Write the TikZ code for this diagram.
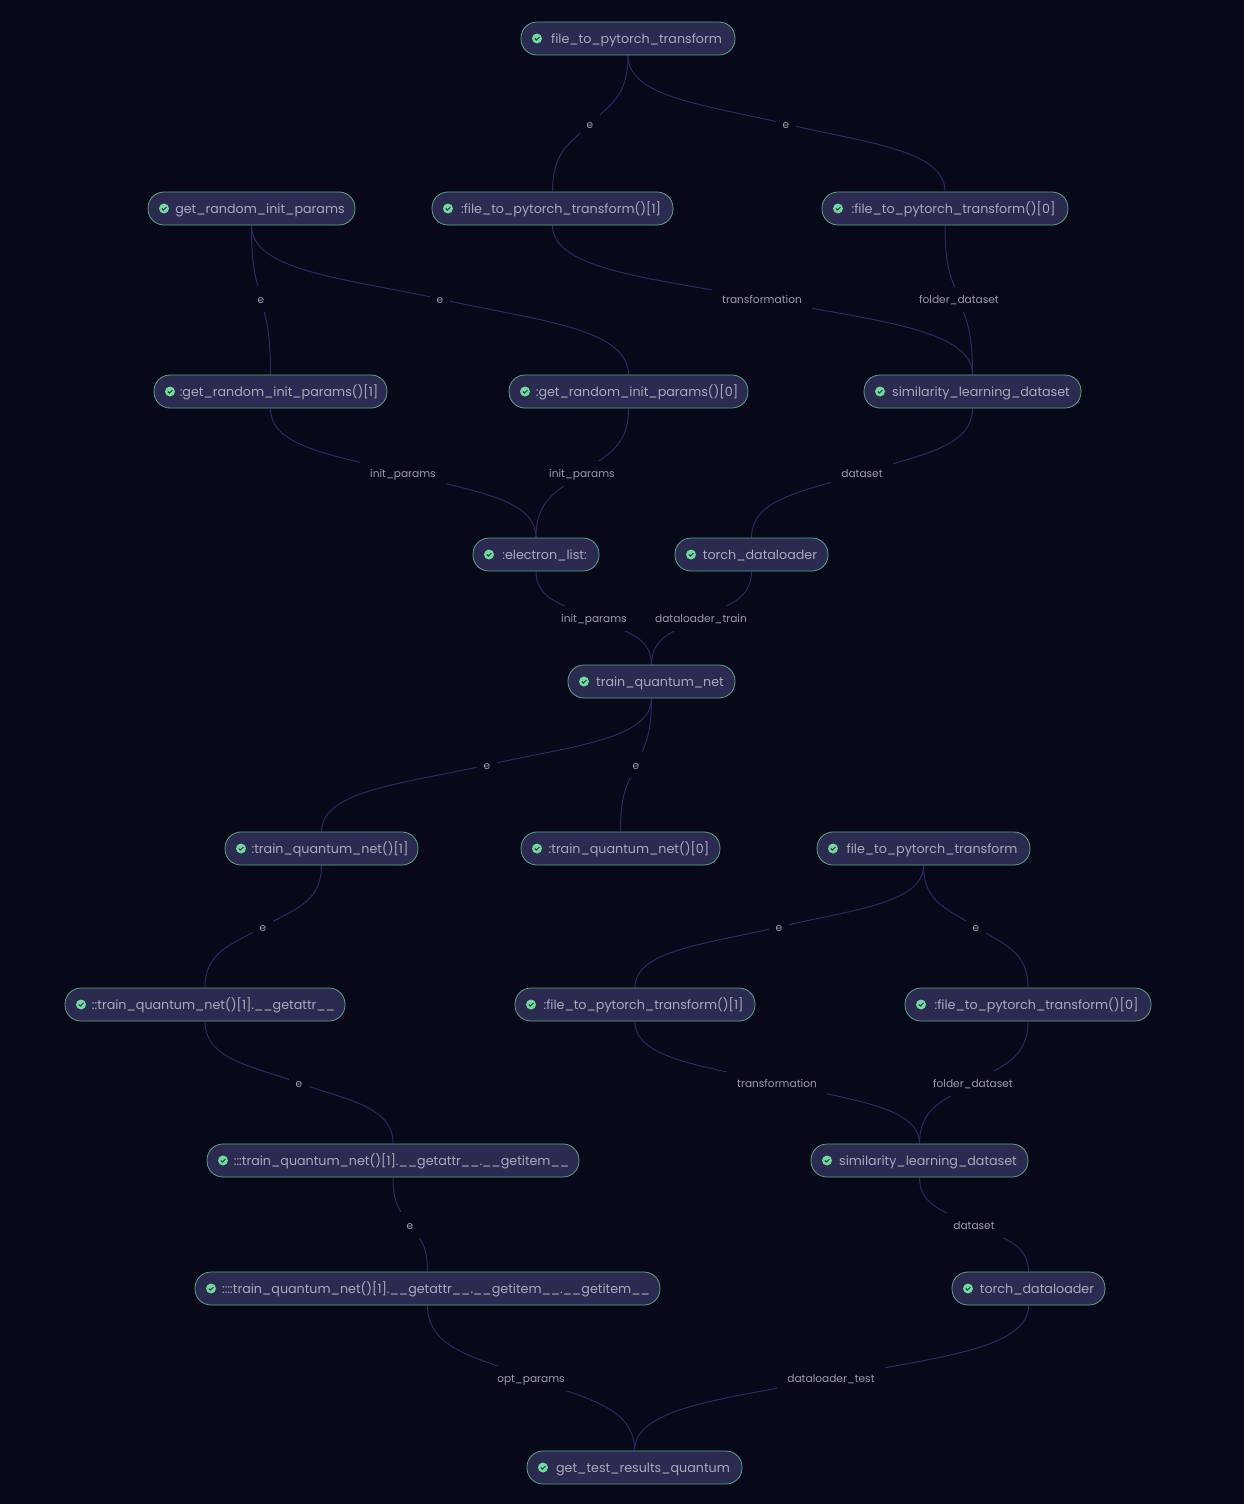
\documentclass[tikz,border=0pt]{standalone}
\usepackage{fontspec}
\setmainfont{Poppins}
\usetikzlibrary{calc}
\definecolor{pagebg}{HTML}{070818}
\definecolor{taskfill}{HTML}{2B2A50}
\definecolor{taskline}{HTML}{5AA583}
\definecolor{tasktext}{HTML}{ABAAB9}
\definecolor{edgetext}{HTML}{9C9CA8}
\definecolor{edgeline}{HTML}{2A2A63}
\definecolor{okgreen}{HTML}{70DA9B}
\pgfdeclarelayer{edges}
\pgfsetlayers{edges,main}
\tikzset{
  task/.style={rectangle, draw=taskline, fill=taskfill, line width=0.8pt, rounded corners=16pt,
    minimum height=33pt, inner xsep=2pt, inner ysep=0pt, text=tasktext, yshift=-0.5pt,
    font=\fontsize{12.7}{16}\selectfont, text height=12pt, text depth=2pt,
    execute at begin node={\hspace*{17pt}},
    path picture={
      \fill[okgreen, sharp corners] ($(path picture bounding box.west)+(16pt,0pt)$) circle (5pt);
      \draw[taskfill, sharp corners, line width=1pt] ($(path picture bounding box.west)+(13.8pt,0pt)$)
        -- ++(1.6pt,-1.6pt) -- ++(3pt,3pt);
    }},
  tag/.style={rectangle, fill=pagebg, inner xsep=10pt, inner ysep=0pt, minimum height=25pt,
    text=edgetext, font=\fontsize{10.6}{13}\selectfont, text height=10.5pt, text depth=1pt},
  letter/.style={tag, inner xsep=7pt, minimum height=26pt},
  edge/.style={draw=edgeline, line width=1pt}
}
\newcommand{\flowedge}[3]{
  \begin{pgfonlayer}{edges}
  \draw[edge] let \p1=(#1.south), \p2=(#2), \p3=(#3.north) in
    (\p1) .. controls (\x1,{\y1+0.62*(\y2-\y1)}) and ({\x2-0.5*(\x2-\x1)},{\y2-0.28*(\y2-\y1)}) .. (\p2)
    .. controls ({\x2+0.5*(\x3-\x2)},{\y2+0.28*(\y3-\y2)}) and (\x3,{\y3-0.62*(\y3-\y2)}) .. (\p3);
  \end{pgfonlayer}
}
\begin{document}
\begin{tikzpicture}[x=1pt, y=-1pt]
  \begin{pgfonlayer}{edges}
    \fill[pagebg] (0,0) rectangle (1244,1504);
  \end{pgfonlayer}
  \useasboundingbox (0,0) rectangle (1244,1504);

  % upper run
  \node (fileA) at (628,38) [task, minimum width=214pt] {file\_to\_pytorch\_transform};
  \node (randinit) at (251.5,208) [task, minimum width=207pt] {get\_random\_init\_params};
  \node (fileAone) at (552.5,208) [task, minimum width=241pt] {:file\_to\_pytorch\_transform()[1]};
  \node (fileAzero) at (945,208) [task, minimum width=246pt] {:file\_to\_pytorch\_transform()[0]};
  \node (randone) at (270.5,391) [task, minimum width=233pt] {:get\_random\_init\_params()[1]};
  \node (randzero) at (628.5,391) [task, minimum width=239pt] {:get\_random\_init\_params()[0]};
  \node (simA) at (972.5,391) [task, minimum width=217pt] {similarity\_learning\_dataset};
  \node (electron) at (536,554) [task, minimum width=126pt] {:electron\_list:};
  \node (loaderA) at (751.5,554) [task, minimum width=153pt] {torch\_dataloader};
  \node (train) at (651.5,681) [task, minimum width=167pt] {train\_quantum\_net};

  % lower run
  \node (trainone) at (321.5,848) [task, minimum width=193pt] {:train\_quantum\_net()[1]};
  \node (trainzero) at (620.5,848) [task, minimum width=199pt] {:train\_quantum\_net()[0]};
  \node (fileB) at (923.5,848) [task, minimum width=213pt] {file\_to\_pytorch\_transform};
  \node (getattr) at (205,1004) [task, minimum width=280pt] {::train\_quantum\_net()[1].\_\_getattr\_\_};
  \node (fileBone) at (635,1004) [task, minimum width=240pt] {:file\_to\_pytorch\_transform()[1]};
  \node (fileBzero) at (1028,1004) [task, minimum width=246pt] {:file\_to\_pytorch\_transform()[0]};
  \node (getitem) at (393,1160) [task, minimum width=372pt] {:::train\_quantum\_net()[1].\_\_getattr\_\_.\_\_getitem\_\_};
  \node (simB) at (919.5,1160) [task, minimum width=217pt] {similarity\_learning\_dataset};
  \node (getitemB) at (427.5,1288) [task, minimum width=465pt] {::::train\_quantum\_net()[1].\_\_getattr\_\_.\_\_getitem\_\_.\_\_getitem\_\_};
  \node (loaderB) at (1028.5,1288) [task, minimum width=153pt] {torch\_dataloader};
  \node (results) at (634.5,1467) [task, minimum width=215pt] {get\_test\_results\_quantum};

  % edge labels
  \node (e1) at (590,124) [letter] {e};
  \node (e2) at (786,124) [letter] {e};
  \node (e3) at (261,299) [letter] {e};
  \node (e4) at (440,299) [letter] {e};
  \node (l1) at (762,299) [tag] {transformation};
  \node (l2) at (959,299) [tag] {folder\_dataset};
  \node (l3) at (403,473) [tag] {init\_params};
  \node (l4) at (582,473) [tag] {init\_params};
  \node (l5) at (862,473) [tag] {dataset};
  \node (l6) at (594,618) [tag] {init\_params};
  \node (l7) at (701,618) [tag] {dataloader\_train};
  \node (e5) at (487,765) [letter] {e};
  \node (e6) at (636,765) [letter] {e};
  \node (e7) at (263,927) [letter] {e};
  \node (e8) at (779,927) [letter] {e};
  \node (e9) at (976,927) [letter] {e};
  \node (e10) at (299,1083) [letter] {e};
  \node (l8) at (777,1083) [tag] {transformation};
  \node (l9) at (973,1083) [tag] {folder\_dataset};
  \node (e11) at (410,1225) [letter] {e};
  \node (l10) at (974,1225) [tag] {dataset};
  \node (l11) at (531,1378) [tag] {opt\_params};
  \node (l12) at (831,1378) [tag] {dataloader\_test};

  \flowedge{fileA}{e1}{fileAone}
  \flowedge{fileA}{e2}{fileAzero}
  \flowedge{randinit}{e3}{randone}
  \flowedge{randinit}{e4}{randzero}
  \flowedge{fileAone}{l1}{simA}
  \flowedge{fileAzero}{l2}{simA}
  \flowedge{randone}{l3}{electron}
  \flowedge{randzero}{l4}{electron}
  \flowedge{simA}{l5}{loaderA}
  \flowedge{electron}{l6}{train}
  \flowedge{loaderA}{l7}{train}
  \flowedge{train}{e5}{trainone}
  \flowedge{train}{e6}{trainzero}
  \flowedge{trainone}{e7}{getattr}
  \flowedge{fileB}{e8}{fileBone}
  \flowedge{fileB}{e9}{fileBzero}
  \flowedge{getattr}{e10}{getitem}
  \flowedge{fileBone}{l8}{simB}
  \flowedge{fileBzero}{l9}{simB}
  \flowedge{getitem}{e11}{getitemB}
  \flowedge{simB}{l10}{loaderB}
  \flowedge{getitemB}{l11}{results}
  \flowedge{loaderB}{l12}{results}
\end{tikzpicture}
\end{document}
